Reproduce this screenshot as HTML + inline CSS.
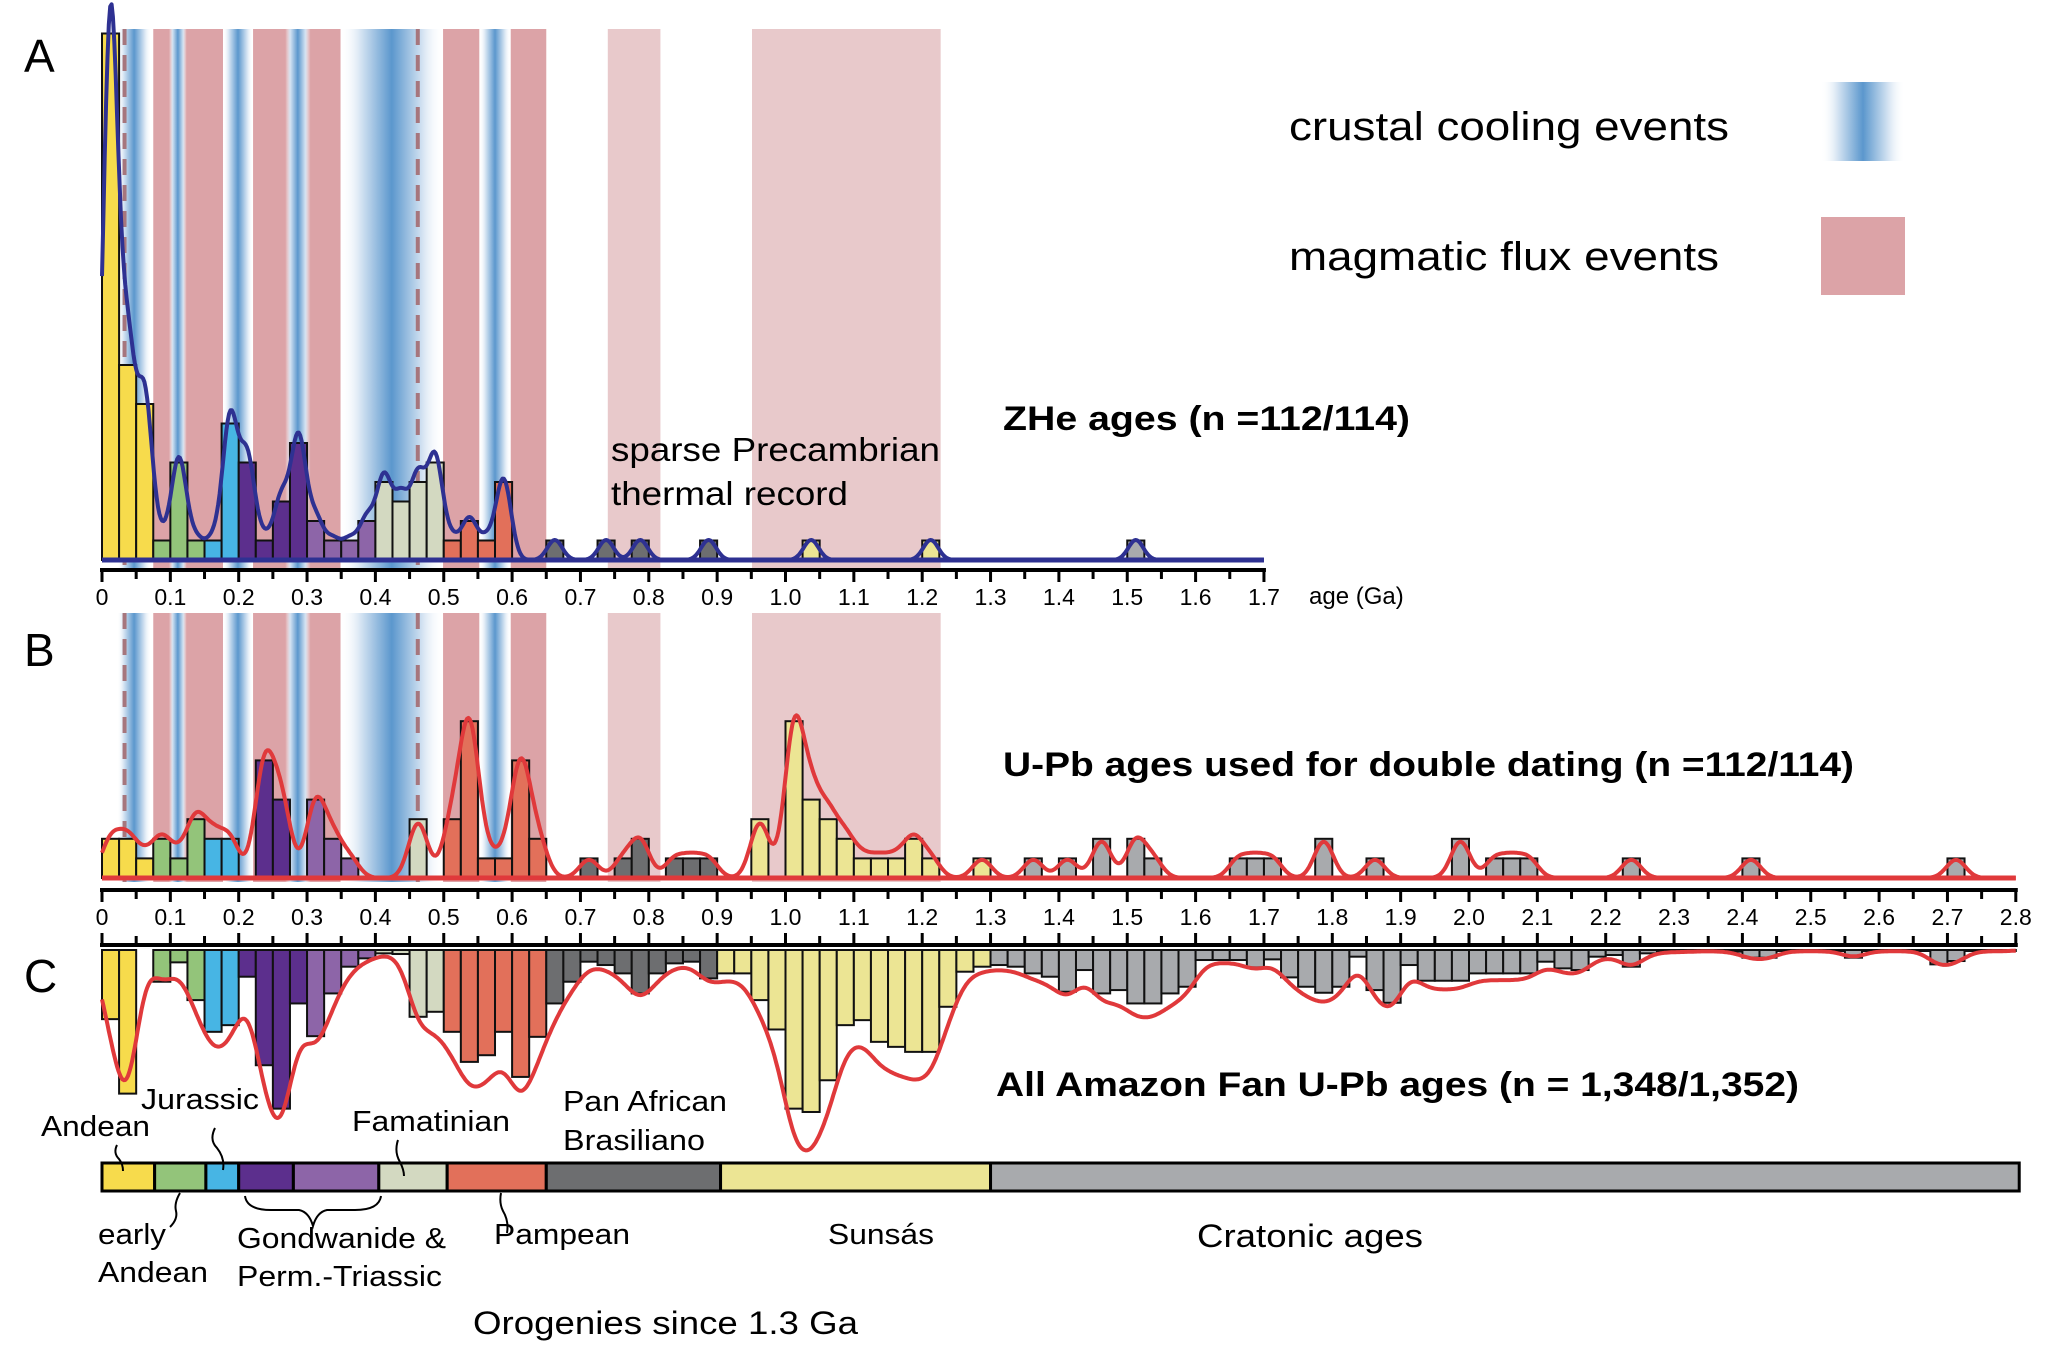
<!DOCTYPE html>
<html><head><meta charset="utf-8"><title>ZHe and U-Pb age distributions</title>
<style>
html,body{margin:0;padding:0;background:#fff;}
svg{display:block;font-family:"Liberation Sans",Arial,sans-serif;}
</style></head>
<body>
<svg id="fig" width="2062" height="1350" viewBox="0 0 2062 1350" xmlns="http://www.w3.org/2000/svg">
<defs>
<linearGradient id="blueGrad" x1="0" x2="1" y1="0" y2="0">
<stop offset="0" stop-color="#ffffff" stop-opacity="0"/>
<stop offset="0.2" stop-color="#d4e3f2"/>
<stop offset="0.5" stop-color="#5b97cd"/>
<stop offset="0.8" stop-color="#d4e3f2"/>
<stop offset="1" stop-color="#ffffff" stop-opacity="0"/>
</linearGradient>
</defs>
<g id="layer-bands"></g>
<g id="layer-bars"></g>
<g id="layer-axes"></g>
<g id="layer-curves"></g>

<text x="24" y="72" font-size="46">A</text>
<text x="24" y="666" font-size="46">B</text>
<text x="24" y="992" font-size="46">C</text>

<text x="1289" y="140" font-size="40" textLength="440" lengthAdjust="spacingAndGlyphs">crustal cooling events</text>
<rect x="1821" y="82" width="84" height="79" fill="url(#blueGrad)"/>
<text x="1289" y="270" font-size="40" textLength="430" lengthAdjust="spacingAndGlyphs">magmatic flux events</text>
<rect x="1821" y="217" width="84" height="78" fill="#dca3a7"/>

<text x="1003" y="430" font-size="34" font-weight="bold" textLength="407" lengthAdjust="spacingAndGlyphs">ZHe ages (n =112/114)</text>
<text x="611" y="461" font-size="33" textLength="329" lengthAdjust="spacingAndGlyphs">sparse Precambrian</text>
<text x="611" y="505" font-size="33" textLength="237" lengthAdjust="spacingAndGlyphs">thermal record</text>
<text x="1309" y="604" font-size="24">age (Ga)</text>
<text x="1003" y="776" font-size="34" font-weight="bold" textLength="851" lengthAdjust="spacingAndGlyphs">U-Pb ages used for double dating (n =112/114)</text>
<text x="996" y="1096" font-size="34" font-weight="bold" textLength="803" lengthAdjust="spacingAndGlyphs">All Amazon Fan U-Pb ages (n = 1,348/1,352)</text>

<g id="orogeny-bar"></g>
<g font-size="29">
<text x="41" y="1136" textLength="109" lengthAdjust="spacingAndGlyphs">Andean</text>
<text x="141" y="1109" textLength="118" lengthAdjust="spacingAndGlyphs">Jurassic</text>
<text x="352" y="1131" textLength="158" lengthAdjust="spacingAndGlyphs">Famatinian</text>
<text x="563" y="1111" textLength="164" lengthAdjust="spacingAndGlyphs">Pan African</text>
<text x="563" y="1150" textLength="142" lengthAdjust="spacingAndGlyphs">Brasiliano</text>
<text x="98" y="1244" textLength="68" lengthAdjust="spacingAndGlyphs">early</text>
<text x="98" y="1282" textLength="110" lengthAdjust="spacingAndGlyphs">Andean</text>
<text x="237" y="1248" textLength="209" lengthAdjust="spacingAndGlyphs">Gondwanide &amp;</text>
<text x="237" y="1286" textLength="205" lengthAdjust="spacingAndGlyphs">Perm.-Triassic</text>
<text x="494" y="1244" textLength="136" lengthAdjust="spacingAndGlyphs">Pampean</text>
<text x="828" y="1244" textLength="106" lengthAdjust="spacingAndGlyphs">Sunsás</text>
<text x="1197" y="1247" font-size="32" textLength="226" lengthAdjust="spacingAndGlyphs">Cratonic ages</text>
<text x="473" y="1334" font-size="32" textLength="385" lengthAdjust="spacingAndGlyphs">Orogenies since 1.3 Ga</text>
</g>
<g fill="none" stroke="#000" stroke-width="2">
<path d="M117 1145 q-4 8 2 14 q4 5 4 12"/>
<path d="M215 1128 q-6 12 2 20 q8 10 6 22"/>
<path d="M398 1140 q-4 12 2 22 q4 8 4 14"/>
<path d="M180 1193 q-6 10 -4 18 q2 8 -6 16"/>
<path d="M245 1196 q2 14 26 14 h28 q10 2 14 16 q4 -14 14 -16 h28 q24 0 26 -14"/>
<path d="M501 1193 q-2 10 2 18 q6 10 4 22"/>
</g>
</svg>

<script>
// ---------- data ----------
const binWidth = 0.025;
const zheCounts = [27,10,8,1,5,1,1,7,5,1,3,6,2,1,1,2,4,3,4,5,1,2,1,4,0,0,1,0,0,1,0,1,0,0,0,1,0,0,0,0,0,1,0,0,0,0,0,0,1,0,0,0,0,0,0,0,0,0,0,0,1,0,0,0,0,0,0,0];
const upbCounts = [2,2,1,2,1,3,2,2,0,6,4,0,4,2,1,0,0,0,3,0,3,8,1,1,6,2,0,0,1,0,1,2,0,1,1,1,0,0,3,0,8,4,3,2,1,1,1,2,1,0,0,1,0,0,1,0,1,0,2,0,2,1,0,0,0,0,1,1,1,0,0,2,0,0,1,0,0,0,0,2,0,1,1,1,0,0,0,0,0,1,0,0,0,0,0,0,1,0,0,0,0,0,0,0,0,0,0,0,1,0,0,0];
const allUpbValues = [207,430,0,95,37,150,245,225,80,345,475,160,258,130,50,25,10,12,200,185,245,335,315,245,380,260,160,95,35,45,70,130,70,40,35,85,70,70,150,238,475,485,390,225,210,275,290,305,305,170,65,50,45,50,70,80,125,60,130,120,160,160,130,110,30,30,30,52,28,82,110,128,110,20,120,158,45,92,92,92,70,70,70,70,35,55,60,20,15,50,10,5,5,3,3,5,23,23,3,3,3,3,23,3,3,3,3,43,33,3,3,3];
const axisTicksA = [0,0.1,0.2,0.3,0.4,0.5,0.6,0.7,0.8,0.9,1.0,1.1,1.2,1.3,1.4,1.5,1.6,1.7];
const axisTicksB = [0,0.1,0.2,0.3,0.4,0.5,0.6,0.7,0.8,0.9,1.0,1.1,1.2,1.3,1.4,1.5,1.6,1.7,1.8,1.9,2.0,2.1,2.2,2.3,2.4,2.5,2.6,2.7,2.8];
const coolingEvents = [[0.022,0.072],[0.098,0.124],[0.177,0.221],[0.268,0.305],[0.349,0.499],[0.552,0.598]];
const magmaticEvents = [[0.075,0.177],[0.221,0.349],[0.499,0.552],[0.598,0.650]];
const sparseEvents = [[0.740,0.817],[0.951,1.227]];
const dashedAges = [0.033,0.462];
const orogenyBreaks = [0,0.077,0.152,0.2,0.28,0.405,0.505,0.65,0.905,1.3,2.805];
const orogenyColors = ["#f7db4c","#93c47a","#47b5e4","#5c2f8d","#8d65a8","#d3d9c1","#e2705a","#6d6e70","#ece594","#a8aaad"];
const binBreaks = [0.075,0.15,0.2,0.3,0.4,0.5,0.65,0.9,1.3];

// ---------- scales ----------
const X0 = 102, PX_PER_GA = 683.5;
function xScale(age){ return X0 + age*PX_PER_GA; }
const A_BASE = 560, A_UNIT = 19.5;
const B_BASE = 878, B_UNIT = 19.6;
const C_TOP = 950, C_UNIT = 0.334;
function yA(c){ return A_BASE - c*A_UNIT; }
function yB(c){ return B_BASE - c*B_UNIT; }
function yC(v){ return C_TOP + v*C_UNIT; }
function colorFor(age){ let i=0; while(i < binBreaks.length && age >= binBreaks[i]-1e-9) i++; return orogenyColors[i]; }

const NS = "http://www.w3.org/2000/svg";
function mk(tag, attrs, parent){ const e=document.createElementNS(NS,tag); for(const k in attrs) e.setAttribute(k,attrs[k]); parent.appendChild(e); return e; }

// ---------- bands ----------
const bandsG = document.getElementById('layer-bands');
const panels = [{top:29,bottom:572,name:'a'},{top:613,bottom:882,name:'b'}];
panels.forEach(p=>{
  sparseEvents.forEach(ev=>{
    const r = mk('rect',{x:xScale(ev[0]),y:p.top,width:xScale(ev[1])-xScale(ev[0]),height:p.bottom-p.top,fill:'#e8c9cb'},bandsG);
    
    
  });
  magmaticEvents.forEach(ev=>{
    const r = mk('rect',{x:xScale(ev[0]),y:p.top,width:xScale(ev[1])-xScale(ev[0]),height:p.bottom-p.top,fill:'#dca3a7'},bandsG);
    
    
  });
  coolingEvents.forEach(ev=>{
    const r = mk('rect',{x:xScale(ev[0]),y:p.top,width:xScale(ev[1])-xScale(ev[0]),height:p.bottom-p.top,fill:'url(#blueGrad)'},bandsG);
    
    
  });
  dashedAges.forEach(a=>{
    const l = mk('line',{x1:xScale(a),x2:xScale(a),y1:p.top,y2:p.bottom,stroke:'#a6767d','stroke-width':4,'stroke-dasharray':'16 10'},bandsG);
    
    
  });
});

// ---------- bars ----------
const barsG = document.getElementById('layer-bars');
zheCounts.forEach((c,i)=>{
  if(!c) return;
  const a0=i*binWidth, y=yA(c);
  const r = mk('rect',{x:xScale(a0),y:y,width:binWidth*PX_PER_GA,height:A_BASE-y,fill:colorFor(a0+binWidth/2),stroke:'#111','stroke-width':2},barsG);
  
  
});
upbCounts.forEach((c,i)=>{
  if(!c) return;
  const a0=i*binWidth, y=yB(c);
  const r = mk('rect',{x:xScale(a0),y:y,width:binWidth*PX_PER_GA,height:B_BASE-y,fill:colorFor(a0+binWidth/2),stroke:'#111','stroke-width':2},barsG);
  
  
});
allUpbValues.forEach((v,i)=>{
  if(!v) return;
  const a0=i*binWidth;
  const r = mk('rect',{x:xScale(a0),y:C_TOP,width:binWidth*PX_PER_GA,height:yC(v)-C_TOP,fill:colorFor(a0+binWidth/2),stroke:'#111','stroke-width':2},barsG);
  
  
});

// ---------- axes ----------
const axG = document.getElementById('layer-axes');
function axis(y, maxAge, ticks, dir, labelY, name, withLabels){
  const l = mk('line',{x1:xScale(0)-2,x2:xScale(maxAge)+2,y1:y,y2:y,stroke:'#000','stroke-width':4},axG);
  
  
  const n = Math.round(maxAge/0.05);
  for(let k=0;k<=n;k++){
    const a=k*0.05, len = (k%2===0)?12:9;
    const t = mk('line',{x1:xScale(a),x2:xScale(a),y1:y,y2:y+dir*len,stroke:'#000','stroke-width':3},axG);
    
    
  }
  if(withLabels) ticks.forEach(v=>{
    const tx = mk('text',{x:xScale(v),y:labelY,'font-size':23,'text-anchor':'middle'},axG);
    tx.textContent = (v===0)?'0':v.toFixed(1);
    
    
  });
}
axis(570, 1.7, axisTicksA, 1, 605, 'axis-a', true);
axis(890, 2.8, axisTicksB, 1, 925, 'axis-b', true);
axis(945, 2.8, axisTicksB, -1, 0, 'axis-c', false);
{ const l = mk('line',{x1:xScale(0),x2:xScale(1.7),y1:A_BASE,y2:A_BASE,stroke:'#2e3192','stroke-width':5},axG);
    }

// ---------- KDE curves ----------
const curvesG = document.getElementById('layer-curves');
function kde(values, bw, maxAge){
  const pts=[];
  for(let x=0;x<=maxAge+1e-9;x+=0.002){
    let s=0;
    values.forEach((v,i)=>{ if(!v) return; const c=(i+0.5)*binWidth; const z=(x-c)/bw; s+=v*Math.exp(-0.5*z*z); });
    pts.push([x,s]);
  }
  return pts;
}
function drawCurve(values,bw,maxAge,peak,yfn,color,name){
  const pts=kde(values,bw,maxAge);
  let m=0; pts.forEach(p=>{ if(p[1]>m) m=p[1]; });
  const d = pts.map((p,i)=>(i?'L':'M')+xScale(p[0]).toFixed(1)+' '+yfn(p[1]/m*peak).toFixed(1)).join(' ');
  const path = mk('path',{d:d,fill:'none',stroke:color,'stroke-width':4,'stroke-linejoin':'round'},curvesG);
  
  
}
drawCurve(zheCounts,0.011,1.7,28.5,yA,'#2e3192','zhe-kde-curve');
drawCurve(upbCounts,0.014,2.8,8.3,yB,'#e0393b','upb-kde-curve');
{ const l = mk('line',{x1:xScale(0),x2:xScale(2.8),y1:B_BASE,y2:B_BASE,stroke:'#e0393b','stroke-width':5},curvesG);
    }
drawCurve(allUpbValues,0.017,2.8,600,yC,'#e0393b','all-upb-kde-curve');

// ---------- orogeny bar ----------
const obG = document.getElementById('orogeny-bar');
for(let i=0;i < orogenyColors.length;i++){
  const x0=xScale(orogenyBreaks[i]), x1=xScale(orogenyBreaks[i+1]);
  const r = mk('rect',{x:x0,y:1163,width:x1-x0,height:28,fill:orogenyColors[i],stroke:'#000','stroke-width':3},obG);
  
  
}
</script>
</body></html>
